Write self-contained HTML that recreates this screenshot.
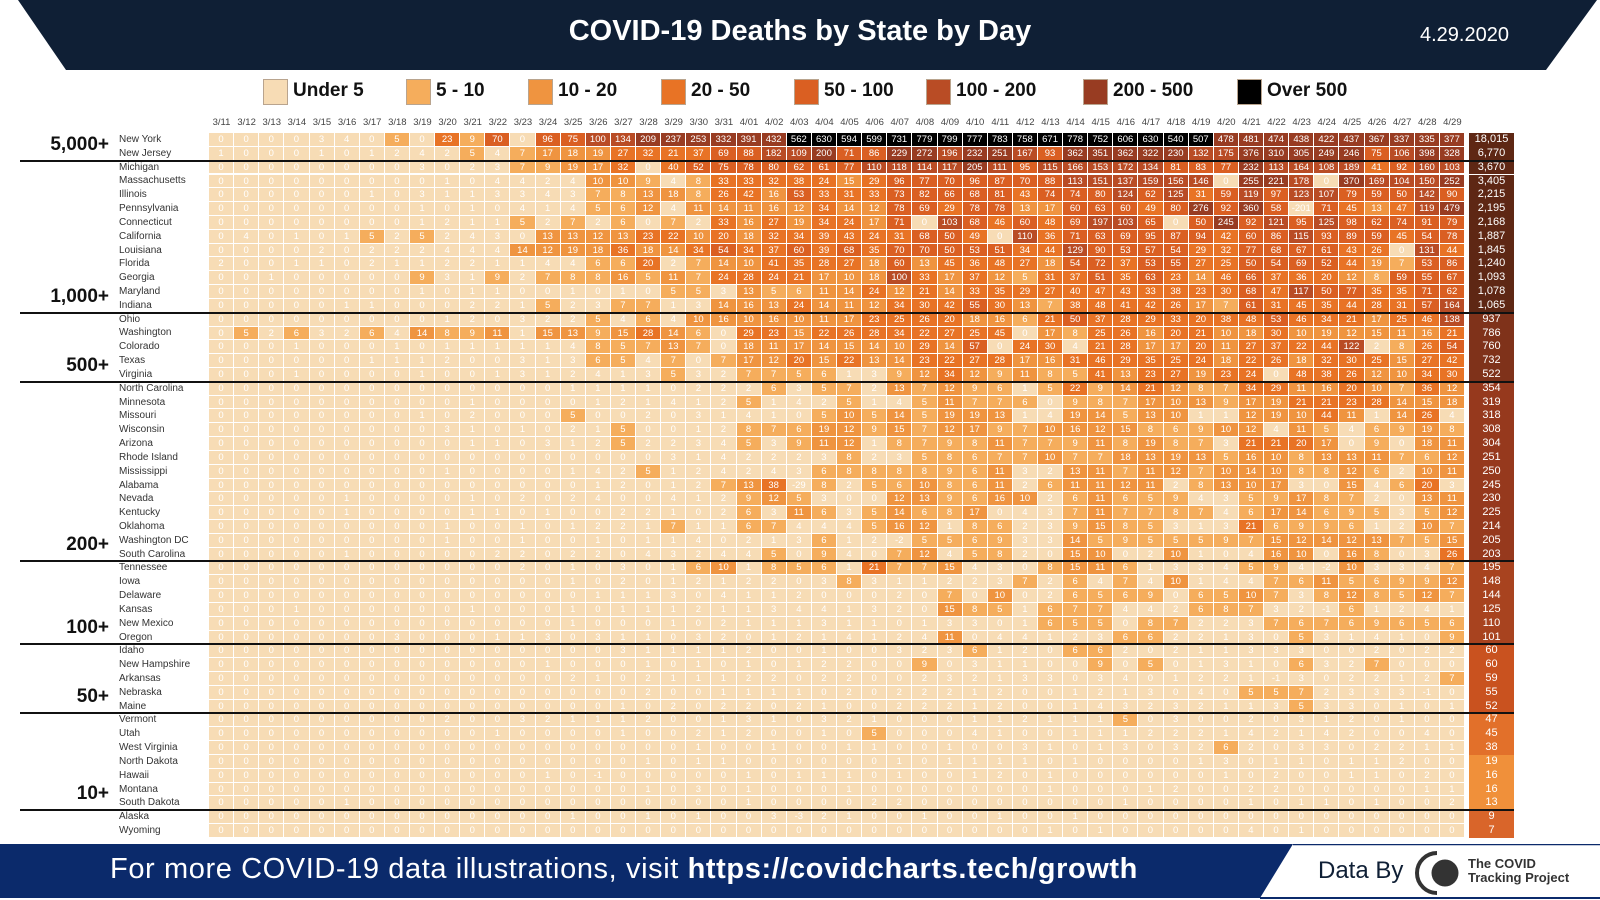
<!DOCTYPE html>
<html><head><meta charset="utf-8">
<style>
body{margin:0;width:1600px;height:900px;background:#fff;overflow:hidden;position:relative;font-family:"Liberation Sans",sans-serif}
.a{position:absolute}
.c{position:absolute;color:#fff;font-size:9.5px;text-align:center;box-sizing:border-box;border-right:1px solid #fff;border-bottom:1px solid #fff;line-height:13px}
.st{position:absolute;left:119px;font-size:10px;color:#333;line-height:14.5px;white-space:nowrap}
.dt{position:absolute;top:117px;font-size:9.5px;color:#444;width:25px;text-align:center}
.gl{position:absolute;right:1491px;font-size:19px;font-weight:bold;color:#111;white-space:nowrap}
.ln{position:absolute;left:20px;width:1494px;height:2px;background:#111}
.sw{position:absolute;top:79px;width:23px;height:24px;border:1px solid #b9a48e}
.lt{position:absolute;top:79px;font-size:19px;font-weight:bold;color:#111;line-height:24px}
</style></head><body>
<svg class="a" style="left:0;top:0" width="1600" height="72"><polygon points="18,0 1597,0 1546,70 66,70" fill="#0f1f35"/></svg>
<div class="a" style="left:0;width:1600px;top:15px;text-align:center;color:#fff;font-size:29px;font-weight:bold">COVID-19 Deaths by State by Day</div>
<div class="a" style="left:1420px;top:24px;color:#fff;font-size:20px">4.29.2020</div>

<div class="sw" style="left:263px;background:#f7dcb5"></div><div class="lt" style="left:293px">Under 5</div>
<div class="sw" style="left:406px;background:#f5ad5c"></div><div class="lt" style="left:436px">5 - 10</div>
<div class="sw" style="left:528px;background:#ef9440"></div><div class="lt" style="left:558px">10 - 20</div>
<div class="sw" style="left:661px;background:#e87325"></div><div class="lt" style="left:691px">20 - 50</div>
<div class="sw" style="left:794px;background:#da5f22"></div><div class="lt" style="left:824px">50 - 100</div>
<div class="sw" style="left:926px;background:#b94c25"></div><div class="lt" style="left:956px">100 - 200</div>
<div class="sw" style="left:1083px;background:#983c22"></div><div class="lt" style="left:1113px">200 - 500</div>
<div class="sw" style="left:1237px;background:#000"></div><div class="lt" style="left:1267px">Over 500</div>

<div id="g"></div>

<svg class="a" style="left:0;top:844px" width="1600" height="56">
<polygon points="0,0 1293,0 1260,54 0,54" fill="#0b2a6b"/>
<line x1="1293" y1="0.5" x2="1600" y2="0.5" stroke="#0b2a6b" stroke-width="1.5"/>
<line x1="1260" y1="54" x2="1600" y2="54" stroke="#0b2a6b" stroke-width="2"/>
<path d="M1437,9 A20,20 0 0 0 1437,49" fill="none" stroke="#333" stroke-width="4"/>
<circle cx="1445" cy="29" r="13.5" fill="#333"/>
</svg>
<div class="a" style="left:110px;top:853px;color:#fff;font-size:29px;letter-spacing:0.6px;white-space:nowrap">For more COVID-19 data illustrations, visit <b>https://covidcharts.tech/growth</b></div>
<div class="a" style="left:1318px;top:857px;color:#0f1f35;font-size:24px">Data By</div>
<div class="a" style="left:1468px;top:857px;color:#333;font-size:13px;font-weight:bold;line-height:14px">The COVID<br>Tracking Project</div>

<script>
var S=[
["New York","0 0 0 0 3 4 0 5 0 23 9 70 0 96 75 100 134 209 237 253 332 391 432","562 630 594 599 731 779 799 777 783 758 671 778 752 606 630 540 507 478 481 474 438 422 437 367 337 335 377","18,015"],
["New Jersey","1 0 0 0 1 0 1 2 4 2 5 4 7 17 18 19 27 32 21 37 69 88 182","109 200 71 86 229 272 196 232 251 167 93 362 351 362 322 230 132 175 376 310 305 249 246 75 106 398 328","6,770"],
["Michigan","0 0 0 0 0 0 0 0 3 0 2 3 7 9 19 17 32 0 40 52 75 78 80","62 61 77 110 118 114 117 205 111 95 115 166 153 172 134 81 83 77 232 113 164 108 189 41 92 160 103","3,670"],
["Massachusetts","0 0 0 0 0 0 0 0 0 1 0 4 4 2 4 10 10 9 4 8 33 33 32","38 24 15 29 96 77 70 96 87 70 88 113 151 137 159 156 146 0 255 221 178 0 370 169 104 150 252","3,405"],
["Illinois","0 0 0 0 0 0 1 0 3 1 1 3 3 4 3 7 8 13 18 8 26 42 16","53 33 31 33 73 82 66 68 81 43 74 74 80 124 62 125 31 59 119 97 123 107 79 59 50 142 90","2,215"],
["Pennsylvania","0 0 0 0 0 0 0 0 1 0 1 0 4 1 4 5 6 12 4 11 14 11 16","12 34 14 12 78 69 29 78 78 13 17 60 63 60 49 80 276 92 360 58 -201 71 45 13 47 119 479","2,195"],
["Connecticut","0 0 0 0 0 0 0 0 1 2 1 1 5 2 7 2 6 0 7 2 33 16 27","19 34 24 17 71 0 103 68 46 60 48 69 197 103 65 0 50 245 92 121 95 125 98 62 74 91 79","2,168"],
["California","0 4 0 1 0 1 5 2 5 2 4 3 0 13 13 12 13 23 22 10 20 18 32","34 39 43 24 31 68 50 49 0 110 36 71 63 69 95 87 94 42 60 86 115 93 89 59 45 54 78","1,887"],
["Louisiana","0 0 0 0 2 0 2 2 2 4 4 4 14 12 19 18 36 18 14 34 54 34 37","60 39 68 35 70 70 50 53 51 34 44 129 90 53 57 54 29 32 77 68 67 61 43 26 0 131 44","1,845"],
["Florida","2 0 0 1 1 0 2 1 1 2 2 1 1 4 4 6 6 20 2 7 14 10 41","35 28 27 18 60 13 45 36 48 27 18 54 72 37 53 55 27 25 50 54 69 52 44 19 7 53 86","1,240"],
["Georgia","0 0 1 0 0 0 0 0 9 3 1 9 2 7 8 8 16 5 11 7 24 28 24","21 17 10 18 100 33 17 37 12 5 31 37 51 35 63 23 14 46 66 37 36 20 12 8 59 55 67","1,093"],
["Maryland","0 0 0 0 0 0 0 0 1 0 1 1 0 0 1 0 1 0 5 5 3 13 5","6 11 14 24 12 21 14 33 35 29 27 40 47 43 33 38 23 30 68 47 117 50 77 35 35 71 62","1,078"],
["Indiana","0 0 0 0 0 1 1 0 0 0 2 2 1 5 2 3 7 7 1 3 14 16 13","24 14 11 12 34 30 42 55 30 13 7 38 48 41 42 26 17 7 61 31 45 35 44 28 31 57 164","1,065"],
["Ohio","0 0 0 0 0 0 0 0 0 1 2 0 3 2 2 5 4 6 4 10 16 10 16","10 11 17 23 25 26 20 18 16 6 21 50 37 28 29 33 20 38 48 53 46 34 21 17 25 46 138","937"],
["Washington","0 5 2 6 3 2 6 4 14 8 9 11 1 15 13 9 15 28 14 6 0 29 23","15 22 26 28 34 22 27 25 45 0 17 8 25 26 16 20 21 10 18 30 10 19 12 15 11 16 21","786"],
["Colorado","0 0 0 1 0 0 0 1 0 1 1 1 1 1 4 8 5 7 13 7 0 18 11","17 14 15 14 10 29 14 57 0 24 30 4 21 28 17 17 20 11 27 37 22 44 122 2 8 26 54","760"],
["Texas","0 0 0 0 0 0 1 1 1 2 0 0 3 1 3 6 5 4 7 0 7 17 12","20 15 22 13 14 23 22 27 28 17 16 31 46 29 35 25 24 18 22 26 18 32 30 25 15 27 42","732"],
["Virginia","0 0 0 1 0 0 0 0 1 0 0 1 3 1 2 4 1 3 5 3 2 7 7","5 6 1 3 9 12 34 12 9 11 8 5 41 13 23 27 19 23 24 0 48 38 26 12 10 34 30","522"],
["North Carolina","1 1 1 1 0 2 2 2 6 3","5 7 2 13 7 12 9 6 1 5 22 9 14 21 12 8 7 34 29 11 16 20 10 7 36 12","354"],
["Minnesota","1 0 0 0 0 1 2 1 4 1 2 5 1 4","2 5 1 4 5 11 7 7 6 0 9 8 7 17 10 13 9 17 19 21 21 23 28 14 15 18","319"],
["Missouri","1 0 2 0 0 0 5 0 0 2 0 3 1 4 1 0","5 10 5 14 5 19 19 13 1 4 19 14 5 13 10 1 1 12 19 10 44 11 1 14 26 4","318"],
["Wisconsin","3 1 0 1 0 2 1 5 0 0 1 2 8 7 6","19 12 9 15 7 12 17 9 7 10 16 12 15 8 6 9 10 12 4 11 5 4 6 9 19 8","308"],
["Arizona","1 1 0 3 1 2 5 2 2 3 4 5 3 9","11 12 1 8 7 9 8 11 7 7 9 11 8 19 8 7 3 21 21 20 17 0 9 0 18 11","304"],
["Rhode Island","3 1 4 2 2 2","3 8 2 3 5 8 6 7 7 10 7 7 18 13 19 13 5 16 10 8 13 13 11 7 6 12","251"],
["Mississippi","1 0 0 0 0 1 4 2 5 1 2 4 2 4 3","6 8 8 8 8 9 6 11 3 2 13 11 7 11 12 7 10 14 10 8 8 12 6 2 10 11","250"],
["Alabama","1 2 0 1 2 7 13 38 -29","8 2 5 6 10 8 6 11 2 6 11 11 12 11 2 8 13 10 17 3 0 15 4 6 20 3","245"],
["Nevada","1 0 0 0 0 1 0 2 0 2 4 0 0 4 1 2 9 12 5","3 0 0 12 13 9 6 16 10 2 6 11 6 5 9 4 3 5 9 17 8 7 2 0 13 11","230"],
["Kentucky","1 0 0 0 0 1 1 0 1 0 0 2 2 1 0 2 6 3 11","6 3 5 14 6 8 17 0 4 3 7 11 7 7 8 7 4 6 17 14 6 9 5 3 5 12","225"],
["Oklahoma","1 0 0 1 0 1 2 2 1 7 1 1 6 7 4","4 4 5 16 12 1 8 6 2 3 9 15 8 5 3 1 3 21 6 9 9 6 1 2 10 7","214"],
["Washington DC","1 0 0 1 0 0 1 0 1 1 4 0 2 1 3","6 1 2 -2 5 5 6 9 3 3 14 5 9 5 5 5 9 7 15 12 14 12 13 7 5 15","205"],
["South Carolina","1 0 0 0 0 0 2 2 0 2 2 0 4 3 2 4 4 5 0","9 4 0 7 12 4 5 8 2 0 15 10 0 2 10 1 0 4 16 10 0 16 8 0 3 26","203"],
["Tennessee","2 0 1 0 3 0 1 6 10 1 8 5","6 1 21 7 7 15 4 3 0 8 15 11 6 1 3 3 4 5 9 4 -2 10 3 3 4 7","195"],
["Iowa","1 0 2 0 1 2 1 2 2 0","3 8 3 1 1 2 2 3 7 2 6 4 7 4 10 1 4 4 7 6 11 5 6 9 9 12","148"],
["Delaware","1 1 1 3 0 4 1 1 2","0 0 0 2 0 7 0 10 0 2 6 5 6 9 0 6 5 10 7 3 8 12 8 5 12 7","144"],
["Kansas","1 0 0 0 0 0 0 1 0 0 0 1 0 1 1 1 2 1 1 3 4","4 1 3 2 0 15 8 5 1 6 7 7 4 4 2 6 8 7 3 2 -1 6 1 2 4 1","125"],
["New Mexico","1 0 0 0 1 0 2 1 1 1","3 1 1 0 1 3 3 0 1 6 5 5 0 8 7 2 2 3 7 6 7 6 9 6 5 6","110"],
["Oregon","3 0 0 0 1 1 3 0 3 1 1 0 3 2 0 1 2","1 4 1 2 4 11 0 4 4 1 2 3 6 6 2 2 1 3 0 5 3 1 4 1 0 9","101"],
["Idaho","3 1 1 1 1 2 0 0","1 0 0 3 2 3 6 1 2 0 6 6 2 0 2 1 1 3 3 3 0 0 2 0 2 2","60"],
["New Hampshire","1 0 0 0 1 0 1 0 1 0 1","2 2 0 0 9 0 3 1 1 0 0 9 0 5 0 1 3 1 0 6 3 2 7 0 0 0","60"],
["Arkansas","2 1 0 2 1 1 1 2 2 0","2 2 0 0 2 3 2 1 3 3 0 3 4 0 1 2 2 1 -1 3 0 2 2 1 2 7","59"],
["Nebraska","2 0 0 1 1 1 1","0 2 0 2 2 2 1 2 0 0 1 2 1 3 0 4 0 5 5 7 2 3 3 3 -1 0","55"],
["Maine","1 0 2 0 2 2 0 2","1 0 0 2 2 2 1 2 0 0 1 4 3 2 3 2 1 1 3 5 3 3 0 1 0 1","52"],
["Vermont","2 0 0 3 2 1 1 1 2 0 0 1 3 1 0","3 2 1 0 0 0 1 1 2 1 1 1 5 0 3 0 0 2 0 3 1 2 0 1 0 0","47"],
["Utah","1 0 0 0 0 1 0 0 2 1 2 0 0","1 0 5 0 0 0 4 1 0 0 1 1 1 2 2 2 1 4 2 1 4 2 0 0 4 0","45"],
["West Virginia","1 0 0 1 0","0 1 1 0 0 1 0 0 3 1 0 1 3 0 3 2 6 2 0 3 3 0 2 2 1 1","38"],
["North Dakota","1 0 1 1 0 0 0","0 0 0 1 0 1 1 1 1 0 1 0 0 0 0 1 3 0 1 1 0 1 1 2 0 0","19"],
["Hawaii","1 0 -1 0 0 0 0 0 1 0 1","1 1 0 1 0 0 1 2 0 1 0 0 0 0 0 0 1 0 2 0 0 1 1 0 2 0","16"],
["Montana","1 0 3 0 1 0 0","0 1 0 0 0 0 0 0 0 1 0 0 0 1 2 0 0 2 2 0 0 0 0 0 1 1","16"],
["South Dakota","1 0 0 0 0 0 0 0 0 0 0 0 0 0 0 0 1 0 0","0 0 2 2 0 0 0 0 0 0 0 0 1 0 0 0 0 1 0 1 1 0 1 0 0 2","13"],
["Alaska","1 0 0 1 0 1 0 0 3 -3","2 1 0 0 1 0 0 1 0 0 1 0 0 0 0 0 0 0 0 0 0 0 0 0 0 0","9"],
["Wyoming","0","0 0 0 0 0 0 0 0 0 1 0 1 0 0 0 0 0 4 0 1 0 0 0 0 0 0","7"]];
var groups=[[2,"5,000+"],[13,"1,000+"],[18,"500+"],[31,"200+"],[37,"100+"],[42,"50+"],[49,"10+"],[51,""]];
function col(v){return v>500?"#000":v>=200?"#983c22":v>=100?"#b94c25":v>=50?"#da5f22":v>=20?"#e87325":v>=10?"#ef9440":v>=5?"#f5ad5c":"#f7dcb5";}
function tcol(t){return t>=1000?"#5e2714":t>=500?"#7f321a":t>=200?"#96391d":t>=100?"#a8431f":t>=50?"#c9521f":t>=30?"#e2702a":t>=10?"#f0903a":"#d9652a";}
var h="",L=209,W=25.12,T=133,H=13.82;
var d=[];for(var i=11;i<=31;i++)d.push("3/"+i);for(i=1;i<=29;i++)d.push("4/"+(i<10?"0"+i:i));
d.forEach(function(s,j){h+='<div class="dt" style="left:'+(L+j*W)+'px">'+s+'</div>';});
S.forEach(function(r,i){
 var b=r[2].split(" ").map(Number),a=r[1].split(" ").map(Number);
 var n=50-b.length;while(a.length<n)a.unshift(0);a=a.slice(a.length-n);
 var v=a.concat(b),y=T+i*H;
 h+='<div class="st" style="top:'+y+'px">'+r[0]+'</div>';
 v.forEach(function(x,j){h+='<div class="c" style="left:'+(L+j*W).toFixed(1)+'px;top:'+y.toFixed(1)+'px;width:'+W+'px;height:'+H+'px;background:'+col(x)+'">'+x+'</div>';});
 var t=parseInt(r[3].replace(",",""));
 h+='<div class="c" style="left:1469px;top:'+y.toFixed(1)+'px;width:45px;height:'+H+'px;background:'+tcol(t)+';border-bottom:none;border-right:none;font-size:11px">'+r[3]+'</div>';
});
groups.forEach(function(g){var yb=T+g[0]*H;
 if(g[0]<51)h+='<div class="ln" style="top:'+(yb-1)+'px"></div>';
 if(g[1])h+='<div class="gl" style="top:'+(yb-27)+'px">'+g[1]+'</div>';});
document.getElementById("g").innerHTML=h;
</script>
</body></html>
